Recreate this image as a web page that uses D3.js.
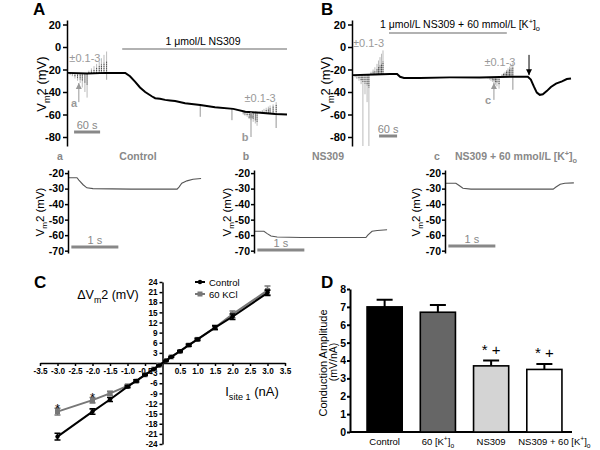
<!DOCTYPE html>
<html>
<head>
<meta charset="utf-8">
<script src="https://cdn.jsdelivr.net/npm/d3@7"></script>
<style>
  body { margin: 0; background: #fff; }
  svg { font-family: "Liberation Sans", Arial, sans-serif; }
</style>
</head>
<body>
<div class="main"></div>
<script>
// ---- data ----
// panel A trace: [time (s), Vm2 (mV)]
const traceA = [[0,-23],[44,-23.5],[89,-23],[132,-23],[143,-26],[155,-31],[166,-36],[178,-40],[194,-44],[201,-45.5],
  [212,-46],[224,-47],[235,-47.5],[247,-48],[270,-50],[305,-51.5],[339,-53.5],[381,-55],[409,-57.5],[443,-58.5],[478,-59.5],[505,-60]]
// current pulses: [time (s), response (mV), artifact peak (mV)]
const stimA1 = [[5,-24,-25],[10,-25,-26],[16,-26,-28],[22,-27.5,-30],[28,-29,-32],[33,-30.5,-36],[39,-32,-40],[44,-34,-45],
  [48,-22,-21],[54,-21,-19],[60,-20,-17],[66,-18.5,-15],[72,-17,-13],[77,-15.5,-10],[83,-14,-7],[89,-13,-4]]
const stimA2 = [[404,-59,-60],[408,-60,-61],[413,-61,-62],[418,-62,-63.5],[422,-63,-65],[427,-64,-66.5],[432,-65.5,-68],[436,-67,-70],
  [443,-58,-57],[448,-57.5,-56],[452,-57,-55],[457,-56,-54],[462,-55,-53],[466,-54,-52],[473,-53,-51],[480,-51.5,-49]]
const glitchA = [[89,-29],[305,-62],[378,-65],[480,-72]]

// panel B trace
const traceB = [[0,-25],[73,-24.5],[123,-24],[147,-24],[157,-26.5],[170,-27.5],[223,-27.5],[323,-27],[423,-27],[523,-26.5],
  [583,-26.5],[593,-29],[603,-35],[613,-40.5],[623,-42.5],[633,-42],[647,-39],[660,-35.5],[677,-32.5],[697,-30.5],[713,-28.5],[727,-28]]
const stimB1 = [[7,-26,-27],[13,-27,-28.5],[20,-28,-30],[27,-29.5,-33],[33,-31,-88],[40,-32.5,-42],[47,-34,-49],[53,-36,-88],
  [60,-23.5,-22],[67,-22,-20],[73,-21,-18],[80,-19.5,-15],[85,-18,-12],[90,-16.5,-9],[95,-15,-6],[100,-13,-3]]
const stimB2 = [[450,-27,-28],[455,-27.5,-29],[460,-28,-30],[465,-29,-31],[470,-30,-32],[475,-31,-33.5],[480,-32,-35],[487,-33,-37],
  [497,-25,-24],[502,-24,-23],[507,-23,-22],[512,-22,-20.5],[517,-21,-19],[522,-20,-17.5],[527,-19,-16],[533,-18,-14]]
const glitchB = [[533,-38]]

// insets: [time (s), mV]
const insetA = [[0,-23],[0.17,-23],[0.21,-24.5],[0.30,-27.5],[0.38,-29.5],[0.51,-30],[1.32,-30.3],[2.30,-30.3],[2.34,-29],[2.40,-26.5],[2.51,-25],[2.64,-24],[2.81,-23.5]]
const insetB = [[0,-57.5],[0.19,-57.5],[0.26,-59],[0.34,-60.5],[0.47,-61.2],[0.98,-61.5],[2.36,-61.5],[2.40,-60],[2.49,-57.5],[2.60,-57],[2.81,-56.5]]
const insetC = [[0,-26.5],[0.21,-26.5],[0.28,-28],[0.36,-29.8],[0.53,-30.3],[2.28,-30.3],[2.34,-29],[2.43,-27.2],[2.53,-26.5],[2.72,-26.3]]

// panel C: I-V relation
const ivCurrents = [-3,-2,-1.5,-1,-0.75,-0.5,-0.25,-0.1,0.1,0.25,0.5,0.75,1,1.5,2,3]
const ivControl = [-21.8,-14.4,-10.8,-7,-5.3,-3.5,-1.8,-0.7,0.7,1.8,3.5,5.3,7,10.5,13.7,20.8]
const ivControlErr = [1,0.8,0.6,0.3,0.3,0.2,0.1,0.1,0.1,0.1,0.2,0.3,0.3,0.5,0.8,0.8]
const ivKCl = [-14.4,-11,-9,-6.8,-5.4,-3.5,-1.8,-0.7,0.7,1.8,3.4,5.3,7,10.5,14.4,21.5]
const ivKClErr = [1,0.8,0.6,0.4,0.3,0.2,0.1,0.1,0.1,0.1,0.2,0.3,0.3,0.7,1,1.3]
const ivStars = [-3,-2]

// panel D: conduction amplitude
const barNames = ["Control","60 K","NS309","NS309 + 60 K"]
const barMeans = [7.0,6.7,3.7,3.5]
const barErrs = [0.4,0.4,0.3,0.3]
const barFills = ["#000","#666","#d4d4d4","#fff"]
const barMarks = ["","","* +","* +"]

// ---- helpers ----
const svg = d3.select(".main").append("svg").attr("width", 600).attr("height", 450)

function rich(sel, parts, size) {
  let shift = 0
  parts.forEach(([s, k]) => {
    const want = k === "sub" ? size * 0.3 : k === "sup" ? -size * 0.4 : 0
    sel.append("tspan").attr("dy", want - shift).attr("font-size", k ? size * 0.7 : size).text(s)
    shift = want
  })
  return sel
}
const vmParts = [["V",""],["m","sub"],["2 (mV)",""]]
const kParts = [["[K",""],["+","sup"],["]",""],["o","sub"]]

function styleAxis(g, size, w) {
  g.select(".domain").attr("stroke-width", w || 1.5)
  g.selectAll(".tick line").attr("stroke-width", w || 1.5)
  g.selectAll(".tick text").attr("font-size", size).attr("font-weight", "bold").attr("fill", "#000")
}

function panelLabel(txt, x, y) {
  svg.append("text").attr("x", x).attr("y", y).attr("font-size", 17).attr("font-weight", "bold").text(txt)
}

function baseAt(trace, t) {
  const i = d3.bisector(d => d[0]).right(trace, t)
  const a = trace[Math.max(0, i - 1)], b = trace[Math.min(trace.length - 1, i)]
  if (a === b) return a[1]
  return a[1] + (b[1] - a[1]) * (t - a[0]) / (b[0] - a[0])
}

function drawStim(g, x, y, trace, pulses, glitches) {
  g.selectAll(null).data(pulses).join("line")
    .attr("x1", d => x(d[0])).attr("x2", d => x(d[0]))
    .attr("y1", d => y(baseAt(trace, d[0]))).attr("y2", d => y(d[2]))
    .attr("stroke", "#aaa").attr("stroke-width", 0.8)
  g.selectAll(null).data(glitches).join("line")
    .attr("x1", d => x(d[0])).attr("x2", d => x(d[0]))
    .attr("y1", d => y(baseAt(trace, d[0]))).attr("y2", d => y(d[1]))
    .attr("stroke", "#aaa").attr("stroke-width", 0.8)
  g.selectAll(null).data(pulses).join("line")
    .attr("x1", d => x(d[0])).attr("x2", d => x(d[0]))
    .attr("y1", d => y(baseAt(trace, d[0]))).attr("y2", d => y(d[1]))
    .attr("stroke", "#222").attr("stroke-width", 0.8).attr("stroke-dasharray", "1.2,0.8")
}

function arrow(x, y1, y2, color) {
  const dir = y2 < y1 ? 1 : -1
  svg.append("line").attr("x1", x).attr("x2", x).attr("y1", y1).attr("y2", y2)
    .attr("stroke", color).attr("stroke-width", 1)
  svg.append("path").attr("d", `M${x},${y2} l-3,${dir * 6} l6,0 z`).attr("fill", color)
}

function vLabel(x, y, size) {
  rich(svg.append("text").attr("transform", `translate(${x},${y}) rotate(-90)`).attr("text-anchor", "middle"), vmParts, size)
}

// ---- panel A / B ----
const yMain = d3.scaleLinear().domain([-88, 24]).range([146, 20])
const xA = d3.scaleLinear().domain([0, 505]).range([68, 287])
const xB = d3.scaleLinear().domain([0, 727]).range([353, 571])
const mainTicks = [20, 0, -20, -40, -60, -80]

function mainPanel(x, trace, stims, glitches) {
  const g = svg.append("g")
  stims.forEach(s => drawStim(g, x, yMain, trace, s, glitches))
  g.append("path").datum(trace)
    .attr("d", d3.line().x(d => x(d[0])).y(d => yMain(d[1])))
    .attr("fill", "none").attr("stroke", "#000").attr("stroke-width", 2)
  svg.append("g").attr("transform", `translate(${x.range()[0] - 1},0)`)
    .call(d3.axisLeft(yMain).tickValues(mainTicks).tickSize(4).tickSizeOuter(0).tickPadding(2).tickFormat(d => d))
    .call(s => styleAxis(s, 11))
}
mainPanel(xA, traceA, [stimA1, stimA2], glitchA)
mainPanel(xB, traceB, [stimB1, stimB2], glitchB)

panelLabel("A", 33, 15)
panelLabel("B", 321, 15)
vLabel(46, 84, 13)
vLabel(330, 84, 13)

// drug bars
svg.append("line").attr("x1", xA(125)).attr("x2", xA(505)).attr("y1", 49).attr("y2", 49).attr("stroke", "#999").attr("stroke-width", 1.5)
svg.append("text").attr("x", 203).attr("y", 45).attr("text-anchor", "middle").attr("font-size", 10.5).text("1 μmol/L NS309")
svg.append("line").attr("x1", xB(120)).attr("x2", xB(513)).attr("y1", 33).attr("y2", 33).attr("stroke", "#999").attr("stroke-width", 1.5)
rich(svg.append("text").attr("x", 460).attr("y", 28).attr("text-anchor", "middle"),
  [["1 μmol/L NS309 + 60 mmol/L ",""]].concat(kParts), 10.5)

// ±0.1-3 labels
const stimText = [[xA(39), 62], [xA(443), 102], [xB(52), 47], [xB(490), 66]]
svg.selectAll(null).data(stimText).join("text")
  .attr("x", d => d[0]).attr("y", d => d[1]).attr("text-anchor", "middle")
  .attr("font-size", 11).attr("fill", "#999").text("±0.1-3")

// arrows a, b, c and the black arrow
arrow(xA(25), yMain(-49), yMain(-32), "#999")
arrow(xA(422), yMain(-80), yMain(-58), "#999")
arrow(xB(470), yMain(-47), yMain(-32), "#999")
arrow(xB(587), yMain(-7), yMain(-25), "#000")
const letters = [[74, 107, "a"], [245, 141, "b"], [488, 104, "c"]]
svg.selectAll(null).data(letters).join("text")
  .attr("x", d => d[0]).attr("y", d => d[1]).attr("text-anchor", "middle")
  .attr("font-size", 11).attr("font-weight", "bold").attr("fill", "#999").text(d => d[2])

// 60 s scale bars
function scaleBar(x, t0, y, label) {
  svg.append("line").attr("x1", x(t0)).attr("x2", x(t0 + 60)).attr("y1", y).attr("y2", y).attr("stroke", "#888").attr("stroke-width", 3)
  svg.append("text").attr("x", (x(t0) + x(t0 + 60)) / 2).attr("y", y - 3.5).attr("text-anchor", "middle")
    .attr("font-size", 11).attr("fill", "#888").text(label)
}
scaleBar(xA, 14, 132, "60 s")
scaleBar(xB, 87, 136, "60 s")

// ---- insets ----
const yIn = d3.scaleLinear().domain([-71.5, -18]).range([253, 170])
const insetTicks = [-20, -30, -40, -50, -60, -70]
function inset(x0, data, yLab, barY) {
  const x = d3.scaleLinear().domain([0, 1]).range([x0 + 1, x0 + 48])
  svg.append("path").datum(data)
    .attr("d", d3.line().x(d => x(d[0])).y(d => yIn(d[1])))
    .attr("fill", "none").attr("stroke", "#555").attr("stroke-width", 1.1)
  svg.append("g").attr("transform", `translate(${x0},0)`)
    .call(d3.axisLeft(yIn).tickValues(insetTicks).tickSize(3).tickSizeOuter(0).tickPadding(1).tickFormat(d => d))
    .call(s => styleAxis(s, 10.5))
  vLabel(yLab, 212, 11.5)
  svg.append("line").attr("x1", x(0.05)).attr("x2", x(1.05)).attr("y1", barY).attr("y2", barY).attr("stroke", "#888").attr("stroke-width", 3)
  svg.append("text").attr("x", x(0.55)).attr("y", barY - 3.5).attr("text-anchor", "middle")
    .attr("font-size", 11).attr("fill", "#888").text("1 s")
}
inset(68, insetA, 44, 247)
inset(254, insetB, 231, 250)
inset(445, insetC, 420, 246)

const titles = [[60, "a"], [138, "Control"], [246, "b"], [328, "NS309"], [437, "c"]]
svg.selectAll(null).data(titles).join("text")
  .attr("x", d => d[0]).attr("y", 160).attr("text-anchor", "middle")
  .attr("font-size", 10.5).attr("font-weight", "bold").attr("fill", "#888").text(d => d[1])
rich(svg.append("text").attr("x", 516).attr("y", 160).attr("text-anchor", "middle")
  .attr("font-weight", "bold").attr("fill", "#888"), [["NS309 + 60 mmol/L ",""]].concat(kParts), 10.5)

// ---- panel C ----
panelLabel("C", 34, 288)
const xC = d3.scaleLinear().domain([-3.5, 3.5]).range([40, 285])
const yC = d3.scaleLinear().domain([-24, 24]).range([444, 282])
svg.append("g").attr("transform", `translate(0,${yC(0)})`)
  .call(d3.axisBottom(xC).tickValues(d3.range(-7, 8).filter(v => v !== 0).map(v => v / 2))
    .tickSize(3).tickSizeOuter(0).tickPadding(2).tickFormat(d => d.toFixed(1)))
  .call(s => styleAxis(s, 8.2))
svg.append("g").attr("transform", `translate(${xC(0)},0)`)
  .call(d3.axisLeft(yC).tickValues(d3.range(-8, 9).filter(v => v !== 0).map(v => v * 3))
    .tickSize(3).tickSizeOuter(0).tickPadding(2).tickFormat(d => d))
  .call(s => styleAxis(s, 8.2))

function ivSeries(vals, errs, color, square) {
  const pts = ivCurrents.map((c, i) => [c, vals[i], errs[i]])
  svg.append("path").datum(pts)
    .attr("d", d3.line().x(d => xC(d[0])).y(d => yC(d[1])))
    .attr("fill", "none").attr("stroke", color).attr("stroke-width", 2)
  const g = svg.append("g").attr("stroke", color).attr("stroke-width", 1.6)
  g.selectAll(null).data(pts).join("path")
    .attr("d", d => {
      const x = xC(d[0]), y1 = yC(d[1] - d[2]), y2 = yC(d[1] + d[2])
      return `M${x},${y1}V${y2}M${x - 3},${y1}h6M${x - 3},${y2}h6`
    })
  if (square) {
    svg.selectAll(null).data(pts).join("rect")
      .attr("x", d => xC(d[0]) - 2.5).attr("y", d => yC(d[1]) - 2.5).attr("width", 5).attr("height", 5).attr("fill", color)
  } else {
    svg.selectAll(null).data(pts).join("circle")
      .attr("cx", d => xC(d[0])).attr("cy", d => yC(d[1])).attr("r", 2.2).attr("fill", color)
  }
}
ivSeries(ivKCl, ivKClErr, "#777", true)
ivSeries(ivControl, ivControlErr, "#000", false)

svg.selectAll(null).data(ivStars).join("text")
  .attr("x", d => xC(d)).attr("y", d => yC(ivKCl[ivCurrents.indexOf(d)] + ivKClErr[ivCurrents.indexOf(d)]) + 5)
  .attr("text-anchor", "middle").attr("font-size", 13).text("*")

// legend
const legend = [["Control", "#000", false], ["60 KCl", "#777", true]]
legend.forEach(([name, color, square], i) => {
  const y = 282 + i * 12
  svg.append("line").attr("x1", 195).attr("x2", 205).attr("y1", y).attr("y2", y).attr("stroke", color).attr("stroke-width", 2)
  if (square) svg.append("rect").attr("x", 197.5).attr("y", y - 2.5).attr("width", 5).attr("height", 5).attr("fill", color)
  else svg.append("circle").attr("cx", 200).attr("cy", y).attr("r", 2.2).attr("fill", color)
  svg.append("text").attr("x", 209).attr("y", y + 3.5).attr("font-size", 9.5).text(name)
})
rich(svg.append("text").attr("x", 108).attr("y", 299).attr("text-anchor", "middle"),
  [["ΔV",""],["m","sub"],["2 (mV)",""]], 12.5)
rich(svg.append("text").attr("x", 252).attr("y", 396).attr("text-anchor", "middle"),
  [["I",""],["site 1","sub"],[" (nA)",""]], 13)

// ---- panel D ----
panelLabel("D", 321, 288)
const xD = d3.scaleBand().domain(barNames).range([358, 571]).paddingInner(0.34).paddingOuter(0.17)
const yD = d3.scaleLinear().domain([0, 8]).range([432, 289])
svg.append("g").attr("transform", "translate(350,0)")
  .call(d3.axisLeft(yD).ticks(8).tickSize(3).tickSizeOuter(0).tickPadding(1).tickFormat(d => d))
  .call(s => styleAxis(s, 10.5, 2))
svg.append("line").attr("x1", 350).attr("x2", 572).attr("y1", 432).attr("y2", 432).attr("stroke", "#000").attr("stroke-width", 2)

svg.selectAll(null).data(barNames).join("path")
  .attr("d", (d, i) => {
    const c = xD(d) + xD.bandwidth() / 2
    return `M${c},${yD(barMeans[i])}V${yD(barMeans[i] + barErrs[i])}M${c - 8},${yD(barMeans[i] + barErrs[i])}h16`
  })
  .attr("stroke", "#000").attr("stroke-width", 2)
svg.selectAll(null).data(barNames).join("rect")
  .attr("x", d => xD(d)).attr("width", xD.bandwidth())
  .attr("y", (d, i) => yD(barMeans[i])).attr("height", (d, i) => yD(0) - yD(barMeans[i]))
  .attr("fill", (d, i) => barFills[i]).attr("stroke", "#000").attr("stroke-width", 1.6)
svg.selectAll(null).data(barNames).join("text")
  .attr("x", d => xD(d) + xD.bandwidth() / 2).attr("y", (d, i) => yD(barMeans[i] + barErrs[i]) - 6)
  .attr("text-anchor", "middle").attr("font-size", 15).text((d, i) => barMarks[i])

const barLabelParts = [[["Control",""]], [["60 ",""]].concat(kParts), [["NS309",""]], [["NS309 + 60 ",""]].concat(kParts)]
const barLabelShift = [0, 0, 0, 10]
barNames.forEach((d, i) => {
  rich(svg.append("text").attr("x", xD(d) + xD.bandwidth() / 2 + barLabelShift[i]).attr("y", 445).attr("text-anchor", "middle"), barLabelParts[i], 9.5)
})
svg.append("text").attr("transform", "translate(327,363) rotate(-90)").attr("text-anchor", "middle")
  .attr("font-size", 11).text("Conduction Amplitude")
svg.append("text").attr("transform", "translate(336.5,362) rotate(-90)").attr("text-anchor", "middle")
  .attr("font-size", 10.5).text("(mV/nA)")
</script>
</body>
</html>
